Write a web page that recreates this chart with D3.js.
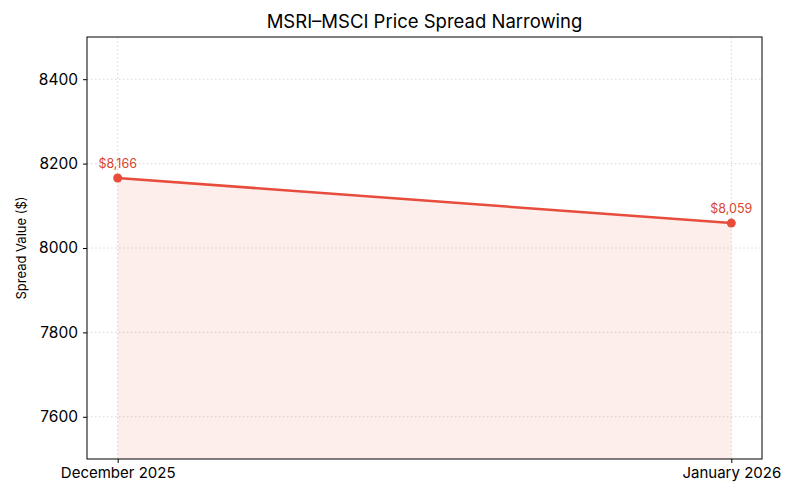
<!DOCTYPE html>
<html lang="en">
  <head>
    <meta charset="utf-8" />
    <title>MSRI–MSCI Price Spread Narrowing</title>
    <script src="https://cdnjs.cloudflare.com/ajax/libs/d3/7.8.5/d3.min.js"></script>
    <style type="text/css">
      body {
        margin: 0;
        background: #fff;
      }
      svg {
        font-family: Inter, "Open Sans", sans-serif;
      }
      .grid line {
        stroke: #cccccc;
        stroke-dasharray: 1.5, 2.5;
        stroke-width: 0.8;
      }
    </style>
  </head>

  <body>
    <script>
      // data
      const months = ["December 2025", "January 2026"];
      const spread = [8166, 8059];
      const yTicks = [7600, 7800, 8000, 8200, 8400];

      const width = 800;
      const height = 500;
      const marginTop = 37;
      const marginRight = 38;
      const marginBottom = 41;
      const marginLeft = 87;

      const data = months.map((m, i) => ({ month: m, value: spread[i] }));

      // x: index scale with 5% padding on each side (like matplotlib)
      const x = d3.scaleLinear()
        .domain([-0.05, 1.05])
        .range([marginLeft, width - marginRight]);

      const y = d3.scaleLinear()
        .domain([7500, 8500])
        .range([height - marginBottom, marginTop]);

      const red = "#e74c3c";

      const svg = d3.select("body")
        .append("svg")
        .attr("width", width)
        .attr("height", height)
        .attr("viewBox", [0, 0, width, height]);

      // grid
      svg.append("g")
        .attr("class", "grid")
        .selectAll("line")
        .data(yTicks)
        .join("line")
        .attr("x1", marginLeft)
        .attr("x2", width - marginRight)
        .attr("y1", d => y(d))
        .attr("y2", d => y(d));

      svg.append("g")
        .attr("class", "grid")
        .selectAll("line")
        .data(data)
        .join("line")
        .attr("x1", (d, i) => x(i))
        .attr("x2", (d, i) => x(i))
        .attr("y1", marginTop)
        .attr("y2", height - marginBottom);

      // area fill down to bottom of axes
      const area = d3.area()
        .x((d, i) => x(i))
        .y0(y(7500))
        .y1(d => y(d.value));

      svg.append("path")
        .attr("fill", red)
        .attr("fill-opacity", 0.1)
        .attr("d", area(data));

      // line
      const line = d3.line()
        .x((d, i) => x(i))
        .y(d => y(d.value));

      svg.append("path")
        .attr("fill", "none")
        .attr("stroke", red)
        .attr("stroke-width", 2.5)
        .attr("d", line(data));

      svg.append("g")
        .selectAll("circle")
        .data(data)
        .join("circle")
        .attr("cx", (d, i) => x(i))
        .attr("cy", d => y(d.value))
        .attr("r", 4.5)
        .attr("fill", red);

      // value labels
      svg.append("g")
        .selectAll("text")
        .data(data)
        .join("text")
        .attr("x", (d, i) => x(i))
        .attr("y", d => y(d.value) - 10)
        .attr("text-anchor", "middle")
        .attr("fill", "#d9442f")
        .attr("font-size", 12.5)
        .text(d => "$" + d3.format(",")(d.value));

      // frame
      svg.append("rect")
        .attr("x", marginLeft)
        .attr("y", marginTop)
        .attr("width", width - marginLeft - marginRight)
        .attr("height", height - marginTop - marginBottom)
        .attr("fill", "none")
        .attr("stroke", "#000")
        .attr("stroke-width", 1);

      // x axis
      const xAxis = d3.axisBottom(x)
        .tickValues(d3.range(months.length))
        .tickFormat(i => months[i])
        .tickSize(4)
        .tickPadding(4)
        .tickSizeOuter(0);

      svg.append("g")
        .attr("transform", `translate(0, ${height - marginBottom})`)
        .call(xAxis)
        .attr("font-family", null)
        .attr("font-size", 15)
        .call(g => g.select(".domain").remove())
        .call(g => g.selectAll("text").attr("fill", "#000"))
        .call(g => g.selectAll(".tick line").attr("stroke", "#000"));

      // y axis
      const yAxis = d3.axisLeft(y)
        .tickValues(yTicks)
        .tickFormat(d3.format("d"))
        .tickSize(4)
        .tickPadding(5);

      svg.append("g")
        .attr("transform", `translate(${marginLeft}, 0)`)
        .call(yAxis)
        .attr("font-family", null)
        .attr("font-size", 15.5)
        .call(g => g.select(".domain").remove())
        .call(g => g.selectAll("text").attr("fill", "#000"))
        .call(g => g.selectAll(".tick line").attr("stroke", "#000"));

      // y label
      svg.append("text")
        .attr("transform", `translate(26, ${(marginTop + height - marginBottom) / 2}) rotate(-90)`)
        .attr("text-anchor", "middle")
        .attr("font-size", 13)
        .text("Spread Value ($)");

      // title
      svg.append("text")
        .attr("x", (marginLeft + width - marginRight) / 2)
        .attr("y", 28)
        .attr("text-anchor", "middle")
        .attr("font-size", 18.5)
        .text("MSRI–MSCI Price Spread Narrowing");
    </script>
  </body>
</html>
